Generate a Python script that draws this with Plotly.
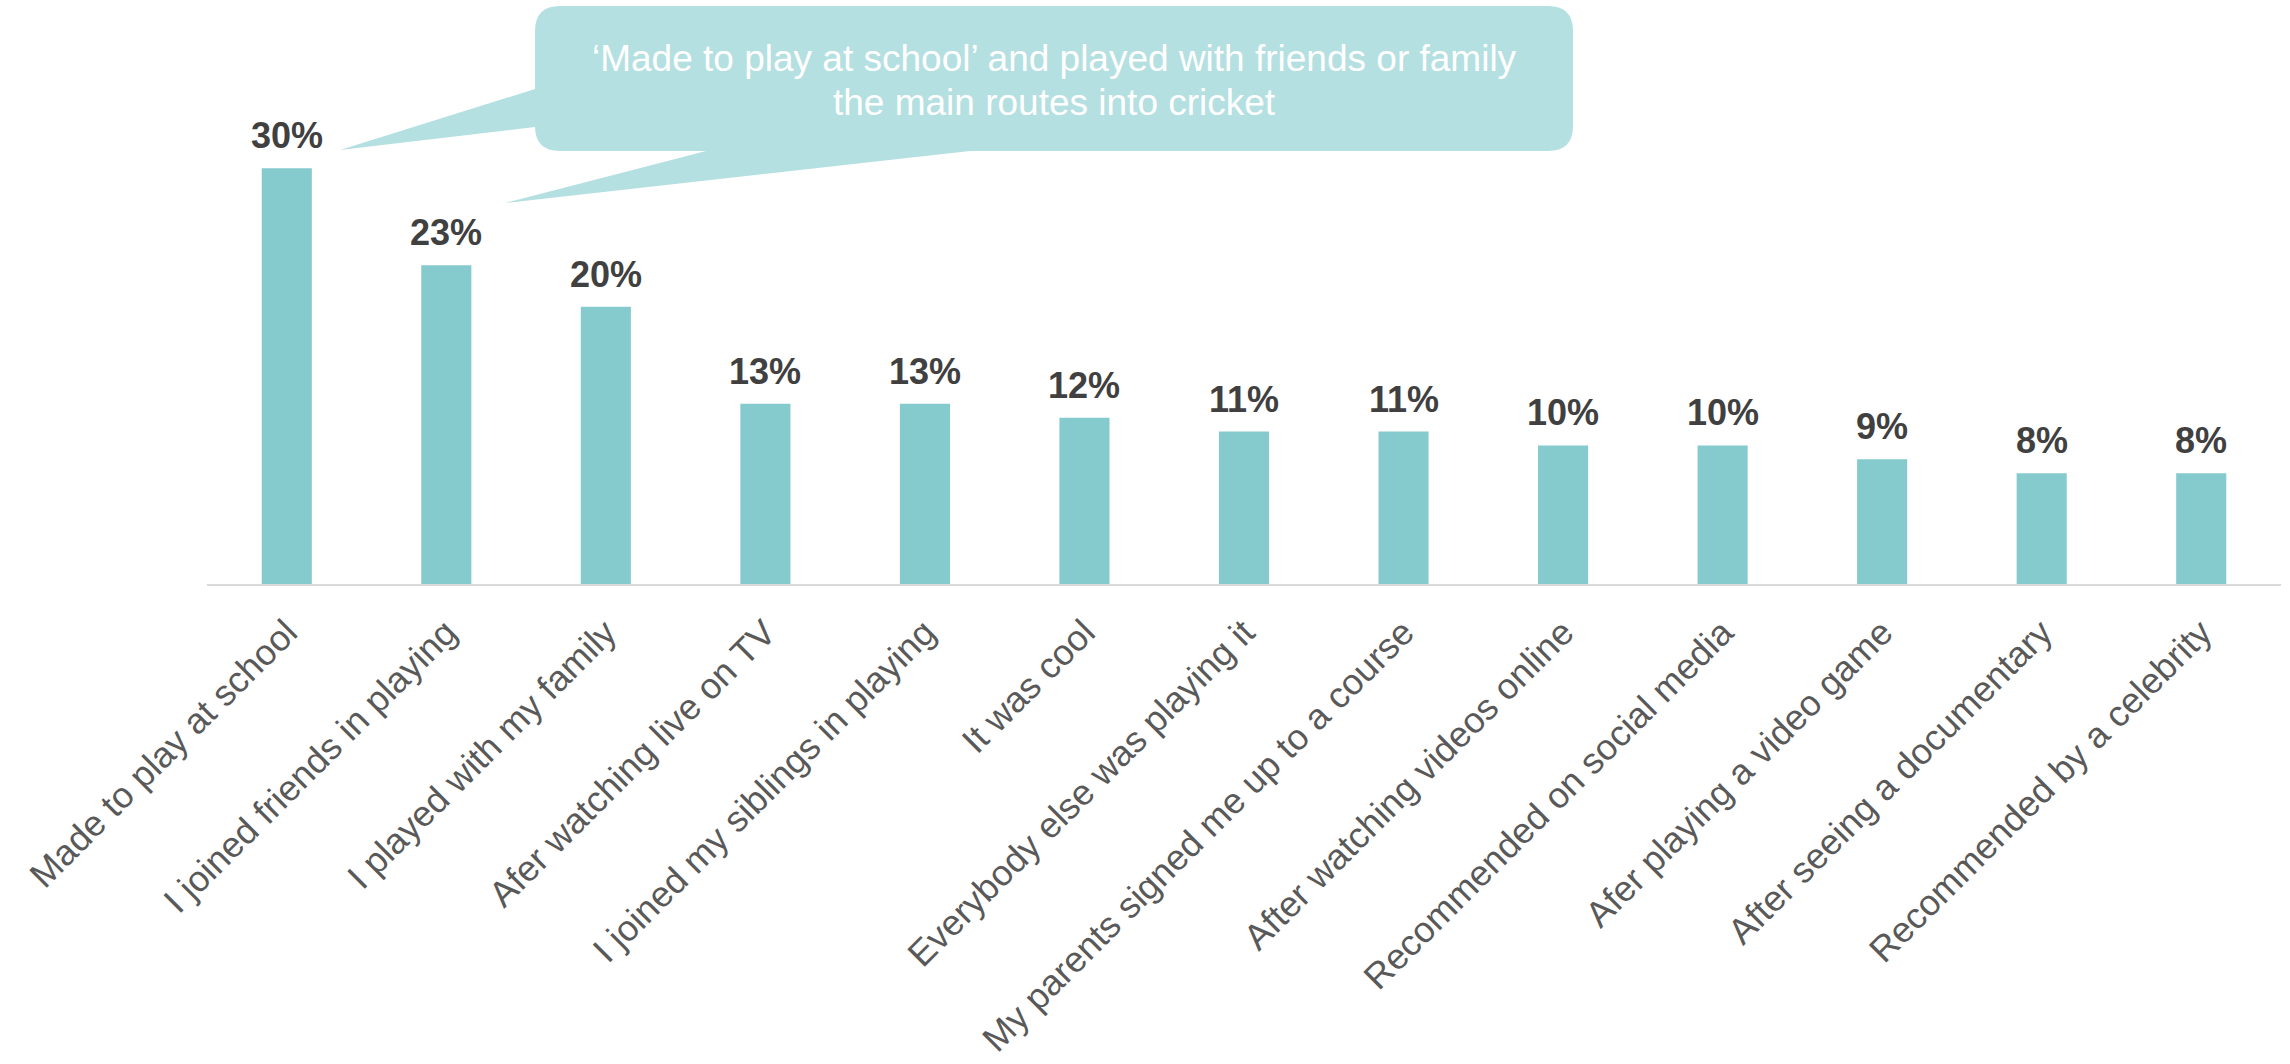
import plotly.graph_objects as go

# Routes into cricket: share of respondents per reason
categories = [
    "Made to play at school",
    "I joined friends in playing",
    "I played with my family",
    "Afer watching live on TV",
    "I joined my siblings in playing",
    "It was cool",
    "Everybody else was playing it",
    "My parents signed me up to a course",
    "After watching videos online",
    "Recommended on social media",
    "Afer playing a video game",
    "After seeing a documentary",
    "Recommended by a celebrity",
]
shares = [30, 23, 20, 13, 13, 12, 11, 11, 10, 10, 9, 8, 8]
callout_lines = [
    "‘Made to play at school’ and played with friends or family",
    "the main routes into cricket",
]

W, H = 2290, 1064
M_L, M_R, M_T, M_B = 207, 9, 99, 480
Y_MAX = 35

BAR_COLOR = "#85CACD"
CALLOUT_COLOR = "#B5E0E1"
FONT = "Liberation Sans, Arial, sans-serif"

plot_w = W - M_L - M_R
plot_h = H - M_T - M_B


def px_x(x):
    return (x - M_L) / plot_w


def px_y(y):
    return (H - M_B - y) / plot_h


def pt(x, y):
    return f"{px_x(x):.5f},{px_y(y):.5f}"


fig = go.Figure(
    go.Bar(
        x=categories,
        y=shares,
        marker=dict(color=BAR_COLOR, line=dict(width=0)),
        hoverinfo="skip",
    )
)

# value labels above each bar
for cat, v in zip(categories, shares):
    fig.add_annotation(
        x=cat, y=v, text=f"{v}%", showarrow=False,
        yanchor="bottom", yshift=10,
        font=dict(family=FONT, size=36, color="#404040", weight="bold"),
    )

# speech-bubble callout with two tails
L, R, T, B, r = 535, 1573, 6, 151, 25
path = (
    f"M {pt(L + r, T)} L {pt(R - r, T)} Q {pt(R, T)} {pt(R, T + r)} "
    f"L {pt(R, B - r)} Q {pt(R, B)} {pt(R - r, B)} "
    f"L {pt(970, B)} L {pt(505, 203)} L {pt(706, B)} "
    f"L {pt(L + r, B)} Q {pt(L, B)} {pt(L, B - r)} "
    f"L {pt(L, 127)} L {pt(340, 150)} L {pt(L, 89)} "
    f"L {pt(L, T + r)} Q {pt(L, T)} {pt(L + r, T)} Z"
)
fig.add_shape(
    type="path", path=path, xref="paper", yref="paper",
    fillcolor=CALLOUT_COLOR, line=dict(width=0), layer="below",
)
for i, line in enumerate(callout_lines):
    fig.add_annotation(
        x=px_x((L + R) / 2), y=px_y(69 + 44 * i), xref="paper", yref="paper",
        text=line, showarrow=False, yanchor="bottom", yshift=-12,
        font=dict(family=FONT, size=37, color="#FFFFFF"),
    )

fig.update_layout(
    width=W, height=H,
    margin=dict(l=M_L, r=M_R, t=M_T, b=M_B, autoexpand=False),
    paper_bgcolor="white", plot_bgcolor="white",
    bargap=0.686,
    showlegend=False,
    xaxis=dict(
        tickangle=-45,
        tickfont=dict(family=FONT, size=36, color="#595959"),
        ticklabelstandoff=11,
        showline=True, linecolor="#D9D9D9", linewidth=2,
        showgrid=False, ticks="", automargin=False,
    ),
    yaxis=dict(range=[0, Y_MAX], visible=False, showgrid=False, fixedrange=True),
)

fig.write_html("out.html")
